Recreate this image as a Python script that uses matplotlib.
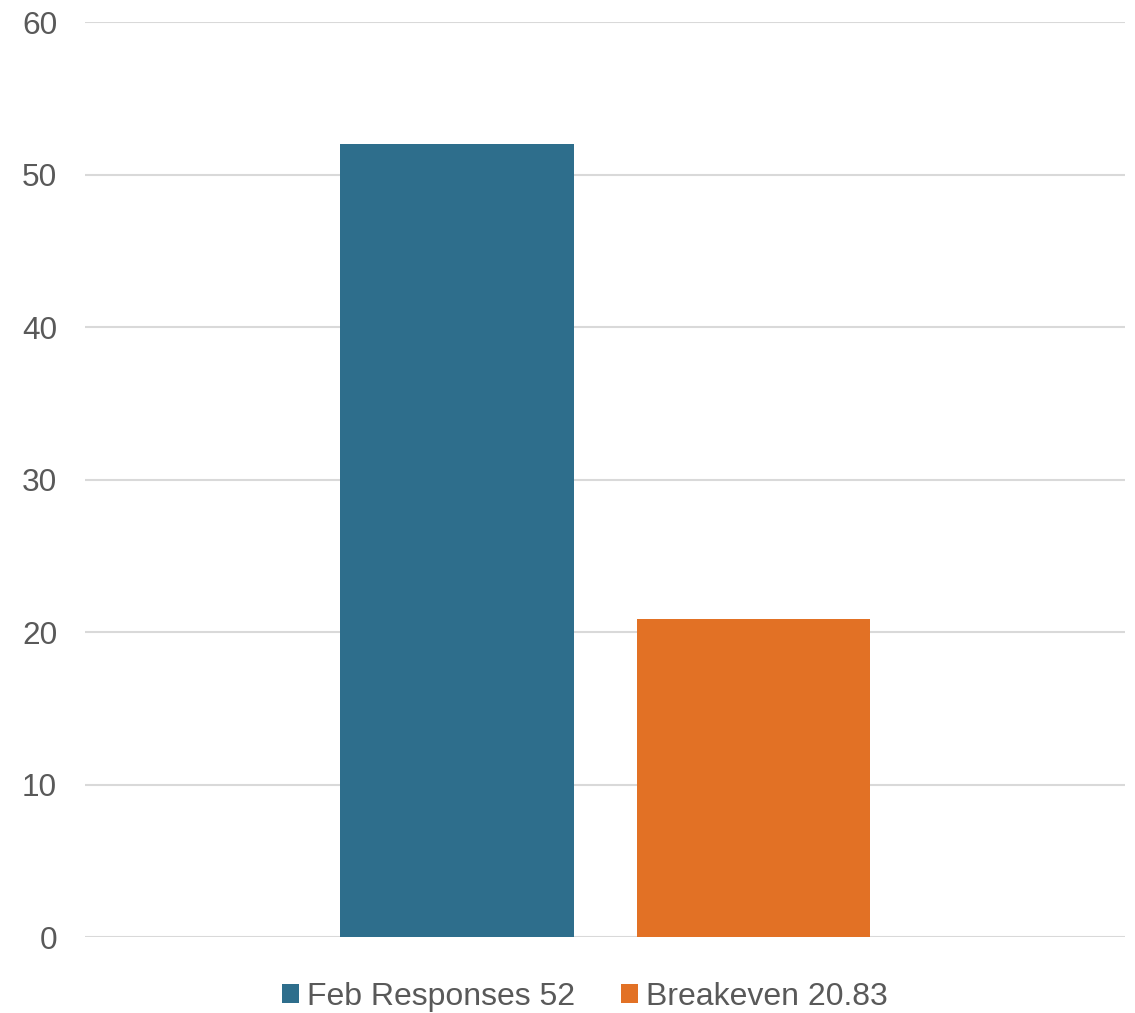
import matplotlib
matplotlib.use("Agg")
import matplotlib.pyplot as plt
from matplotlib.patches import Patch

series = ["Feb Responses 52", "Breakeven 20.83"]
values = [52, 20.83]
colors = ["#2E6E8C", "#E27125"]
yticks = [0, 10, 20, 30, 40, 50, 60]

plt.rcParams['font.family'] = ['Liberation Sans', 'DejaVu Sans']

fig = plt.figure(figsize=(11.35, 10.13), dpi=100)
ax = fig.add_axes([85/1135, 76/1013, 1040/1135, 915/1013])

width = 0.2245
offsets = [-0.1423, 0.1428]
for off, v, c, lab in zip(offsets, values, colors, series):
    ax.bar(off, v, width=width, color=c, label=lab, zorder=3)

ax.set_xlim(-0.5, 0.5)
ax.set_ylim(0, 60)
ax.set_yticks(yticks)
ax.set_yticklabels([str(t) for t in yticks])
ax.set_xticks([])
ax.yaxis.grid(True, color="#D9D9D9", linewidth=1.5, zorder=0)
for s in ax.spines.values():
    s.set_visible(False)
ax.tick_params(axis='y', length=0, pad=20, labelsize=22.7, labelcolor="#595959")

handles = [Patch(facecolor=c, label=l) for c, l in zip(colors, series)]
fig.legend(handles=handles, loc='center', bbox_to_anchor=(585/1135, 1 - 997/1013),
           ncol=2, frameon=False, fontsize=23, labelcolor="#595959",
           handlelength=0.53, handleheight=0.53, handletextpad=0.25, columnspacing=1.45,
           borderpad=0, borderaxespad=0)

fig.savefig("out.png", dpi=100)
